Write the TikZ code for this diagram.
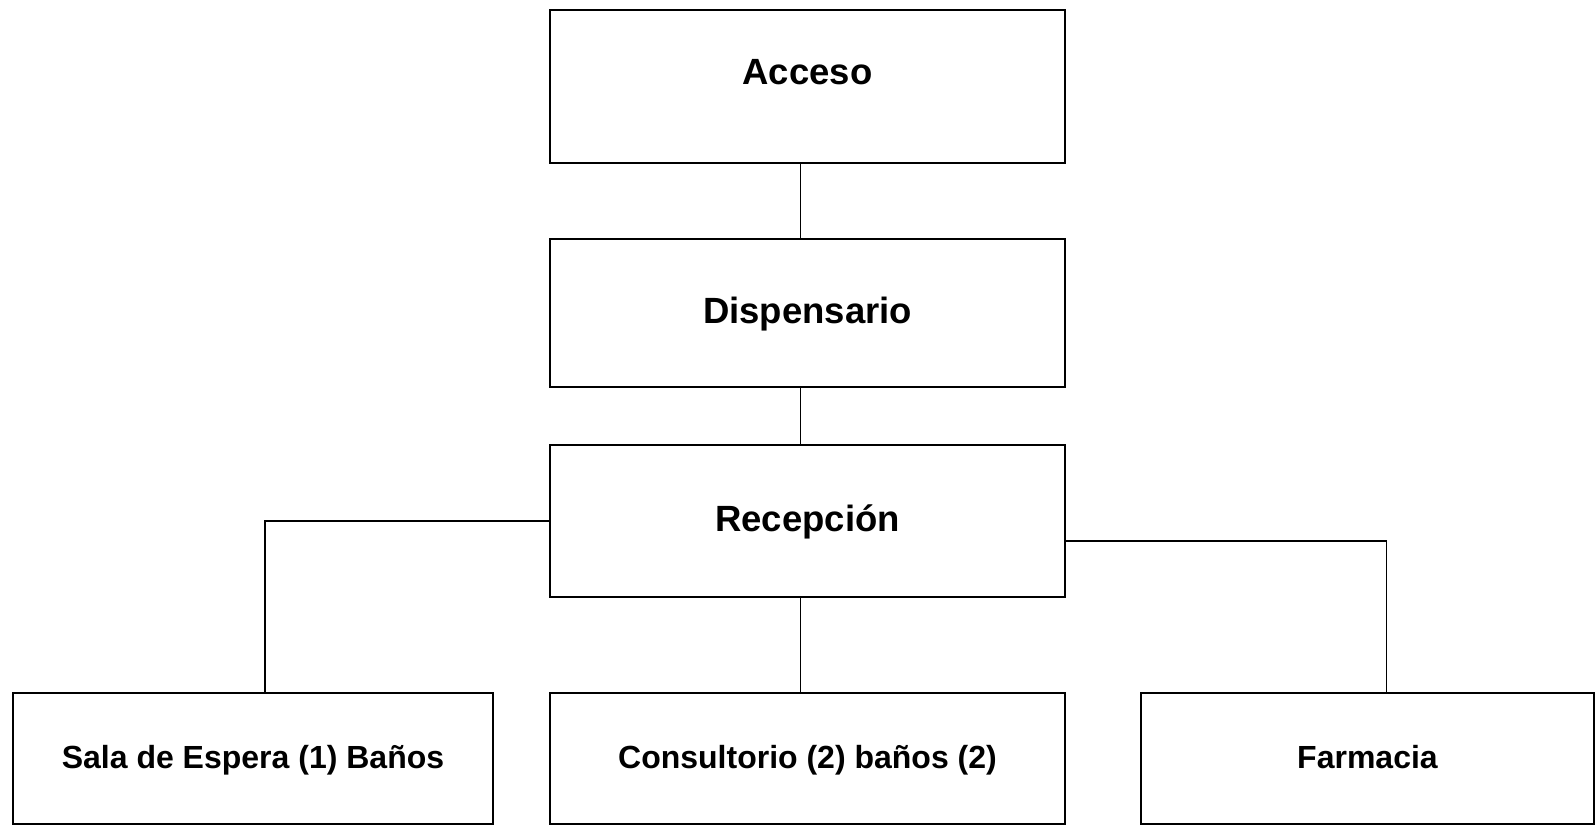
\documentclass[tikz,border=0pt]{standalone}
\usepackage{fontspec}
\setmainfont{Liberation Sans}
\usepackage{tikz}

\begin{document}
\begin{tikzpicture}[x=1pt, y=-1pt, line width=1.6pt,
        room/.style = {draw, rectangle, inner sep=0pt, text height=20pt, text depth=0pt, font=\bfseries\fontsize{36.5}{40}\selectfont},
        small/.style = {font=\bfseries\fontsize{32}{36}\selectfont}]
        \useasboundingbox (0,0) rectangle (1596,827);
        \node[room, minimum width=515pt, minimum height=153pt, text depth=25pt] (acc) at (807.5,86.5)  {Acceso};
        \node[room, minimum width=515pt, minimum height=148pt] (dis) at (807.5,313)   {Dispensario};
        \node[room, minimum width=515pt, minimum height=152pt] (rec) at (807.5,521)   {Recepción};
        \node[room, small, minimum width=480pt, minimum height=131pt] (sal) at (253,758.5)   {Sala de Espera (1) Baños};
        \node[room, small, minimum width=515pt, minimum height=131pt] (con) at (807.5,758.5) {Consultorio (2) baños (2)};
        \node[room, small, minimum width=453pt, minimum height=131pt] (far) at (1367.5,758.5) {Farmacia};
        \draw   ([xshift=-7pt]acc.south)   --  ([xshift=-7pt]dis.north);
        \draw   ([xshift=-7pt]dis.south)   --  ([xshift=-7pt]rec.north);
        \draw   ([xshift=-7pt]rec.south)   --  ([xshift=-7pt]con.north);
        \draw   (rec.west)   -|  ([xshift=12pt]sal.north);
        \draw   ([yshift=-20pt]rec.east)   -|  ([xshift=19pt]far.north);
    \end{tikzpicture}
\end{document}
